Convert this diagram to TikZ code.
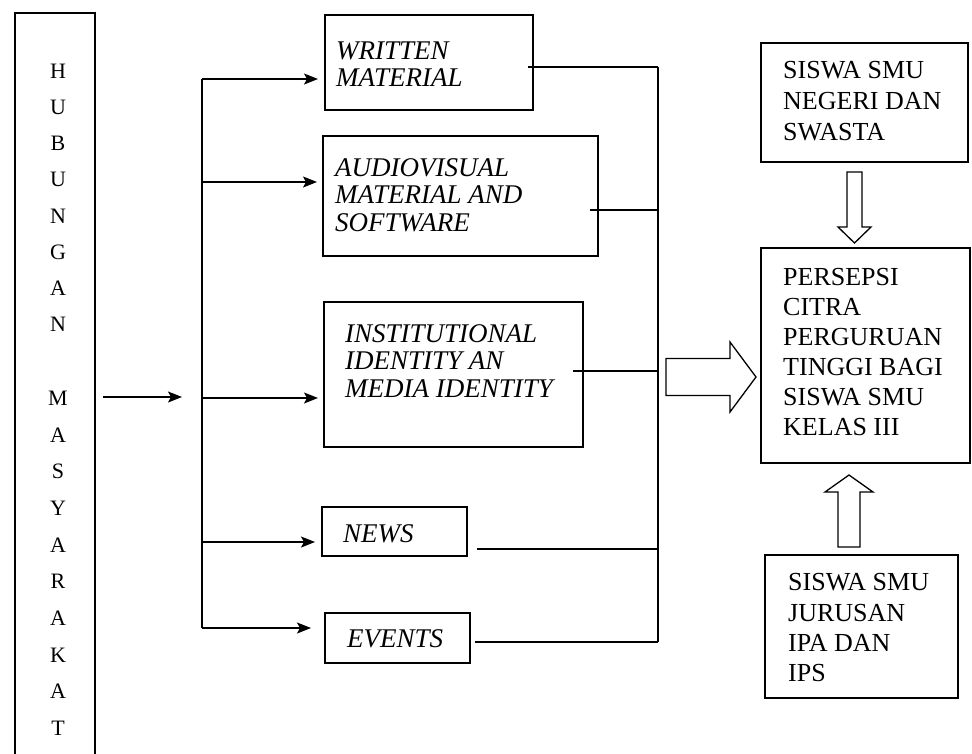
\documentclass[tikz,border=0pt]{standalone}
\usepackage{fontspec}
\setmainfont{Liberation Serif}
\usetikzlibrary{arrows.meta}
\begin{document}
\begin{tikzpicture}[x=1pt,y=-1pt,
  box/.style={draw, line width=1.3pt, inner sep=0pt, outer sep=0pt},
  itx/.style={font=\fontsize{27}{27.5}\selectfont\itshape, align=left, inner sep=0pt, anchor=north west},
  rtx/.style={font=\fontsize{26}{30.2}\selectfont, align=left, inner sep=0pt, anchor=north west},
  ltx/.style={font=\fontsize{22}{36.2}\selectfont, align=center, inner sep=0pt, anchor=north},
  conn/.style={line width=1.2pt},
  arr/.style={line width=1.2pt, -{Stealth[length=14pt,width=11pt,inset=3pt]}},
  blk/.style={draw, line width=1.3pt, fill=white, line join=miter}]
\useasboundingbox (0,0) rectangle (972,753);
\clip (0,0) rectangle (972,753);

% left tall box
\node[box, minimum width=80pt, minimum height=747pt] (lb) at (55,386.5) {};
\node[ltx] (hub) at (58,63.7) {H\\U\\B\\U\\N\\G\\A\\N};
\node[ltx, font=\fontsize{22}{36.7}\selectfont] (mas) at (58,390.7) {M\\A\\S\\Y\\A\\R\\A\\K\\A\\T};

% middle boxes
\node[box, minimum width=208pt, minimum height=95pt] (wm) at (429,62.5) {};
\node[itx] (wmt) at (336,41.5) {WRITTEN\\MATERIAL};
\node[box, minimum width=275pt, minimum height=120pt] (av) at (460.5,196) {};
\node[itx] (avt) at (335,158) {AUDIOVISUAL\\MATERIAL AND\\SOFTWARE};
\node[box, minimum width=259pt, minimum height=145pt] (ii) at (453.5,374.5) {};
\node[itx] (iit) at (345,324.3) {INSTITUTIONAL\\IDENTITY AN\\MEDIA IDENTITY};
\node[box, minimum width=145pt, minimum height=49pt] (nw) at (394.5,531.5) {};
\node[itx] (nwt) at (343,524) {NEWS};
\node[box, minimum width=145pt, minimum height=50pt] (ev) at (397.5,638) {};
\node[itx] (evt) at (347,629) {EVENTS};

% right boxes
\node[box, minimum width=207pt, minimum height=119pt] (sn) at (864.5,102.5) {};
\node[rtx, font=\fontsize{26}{31}\selectfont] (snt) at (783,61.4) {SISWA SMU\\NEGERI DAN\\SWASTA};
\node[box, minimum width=209pt, minimum height=215pt] (pc) at (865.5,355.5) {};
\node[rtx, font=\fontsize{26}{30}\selectfont] (pct) at (783,268.4) {PERSEPSI\\CITRA\\PERGURUAN\\TINGGI BAGI\\SISWA SMU\\KELAS III};
\node[box, minimum width=193pt, minimum height=143pt] (sj) at (861.5,626.5) {};
\node[rtx] (sjt) at (788,573.4) {SISWA SMU\\JURUSAN\\IPA DAN\\IPS};

% input arrow
\coordinate (in2) at (182,397);
\draw[arr] ([xshift=8pt]lb.east |- in2) -- (in2);

% left bus
\coordinate (bl1) at (202,79);
\coordinate (bl2) at (202,182);
\coordinate (bl3) at (202,398);
\coordinate (bl4) at (202,542);
\coordinate (bl5) at (202,628);
\draw[conn] (bl1) -- (bl5);
\draw[arr, shorten >=7pt] (bl1) -- (wm.west |- bl1);
\draw[arr, shorten >=6pt] (bl2) -- (av.west |- bl2);
\draw[arr, shorten >=6pt] (bl3) -- (ii.west |- bl3);
\draw[arr, shorten >=7pt] (bl4) -- (nw.west |- bl4);
\draw[arr, shorten >=14pt] (bl5) -- (ev.west |- bl5);

% right bus
\coordinate (br1) at (658,67);
\coordinate (br2) at (658,210);
\coordinate (br3) at (658,371);
\coordinate (br4) at (658,549);
\coordinate (br5) at (658,642);
\draw[conn] (br1) -- (br5);
\draw[conn] ([xshift=-5pt]wm.east |- br1) -- (br1);
\draw[conn] ([xshift=-8pt]av.east |- br2) -- (br2);
\draw[conn] ([xshift=-10pt]ii.east |- br3) -- (br3);
\draw[conn] ([xshift=10pt]nw.east |- br4) -- (br4);
\draw[conn] ([xshift=5pt]ev.east |- br5) -- (br5);

% block arrows
\draw[blk] (666,358.5) -- (730,358.5) -- (730,342) -- (756,377) -- (730,412) -- (730,395.5) -- (666,395.5) -- cycle;
\draw[blk] (847,172) -- (862,172) -- (862,227) -- (871,227) -- (854.5,243) -- (838,227) -- (847,227) -- cycle;
\draw[blk] (838,547) -- (860,547) -- (860,492) -- (873,492) -- (849,475) -- (825,492) -- (838,492) -- cycle;
\end{tikzpicture}
\end{document}
